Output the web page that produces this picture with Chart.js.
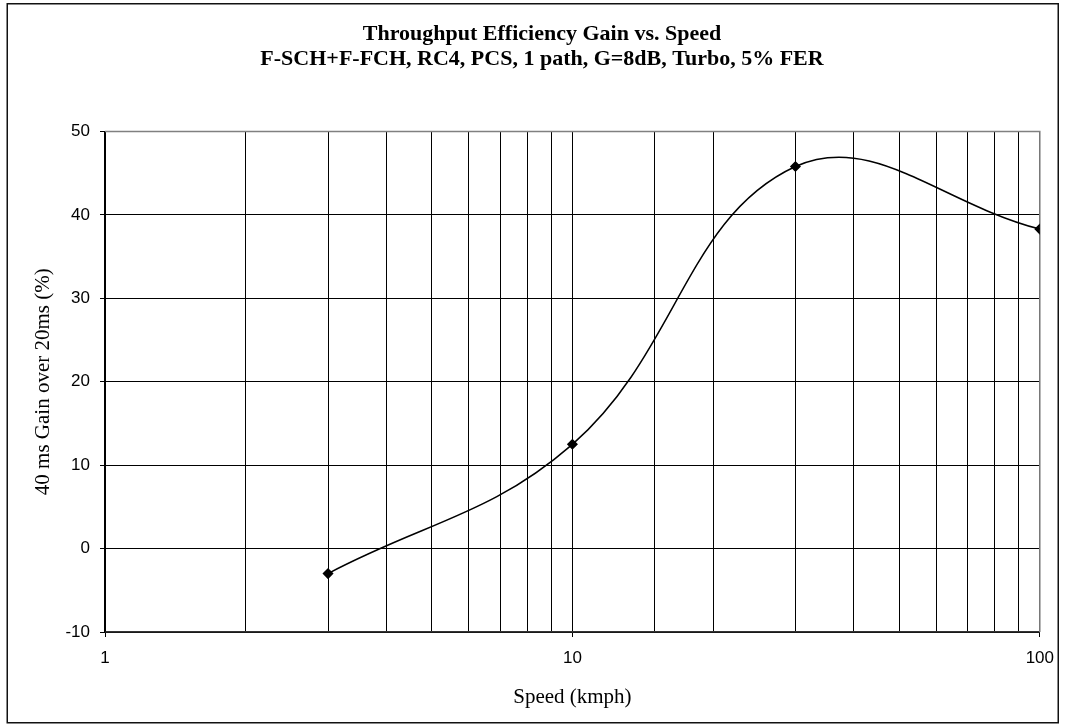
<!DOCTYPE html>
<html>
<head>
<meta charset="utf-8">
<title>Throughput Efficiency Gain vs. Speed</title>
<script src="https://cdn.jsdelivr.net/npm/chart.js@4/dist/chart.umd.min.js"></script>
<style>
    body { margin: 0; background: #fff; }
    #wrap { width: 1065px; height: 727px; position: relative; }
</style>
</head>
<body>
<div id="wrap"><canvas id="gain-speed"></canvas></div>
<script>
// measured points: speed (kmph) vs 40 ms gain over 20 ms (%)
const speeds = [3, 10, 30, 100];
const gains = [-3, 12.5, 45.8, 38.3];

const xLabelValues = [1, 10, 100];
const yMin = -10;
const yMax = 50;
const yStep = 10;

const titleLines = [
    'Throughput Efficiency Gain vs. Speed',
    'F-SCH+F-FCH, RC4, PCS, 1 path, G=8dB, Turbo, 5% FER'
];

// white page with a frame round the whole chart, grey border on top/right of the plot
const framePlugin = {
    id: 'frame',
    beforeDraw: (chart) => {
        const ctx = chart.ctx;
        ctx.save();
        ctx.fillStyle = '#fff';
        ctx.fillRect(0, 0, chart.width, chart.height);
        ctx.strokeStyle = '#111';
        ctx.lineWidth = 1.5;
        ctx.strokeRect(7.25, 3.75, 1051, 719);
        ctx.restore();
    },
    beforeDatasetsDraw: (chart) => {
        const a = chart.chartArea;
        const ctx = chart.ctx;
        ctx.save();
        ctx.strokeStyle = '#808080';
        ctx.lineWidth = 1.5;
        ctx.beginPath();
        ctx.moveTo(a.left, a.top);
        ctx.lineTo(a.right, a.top);
        ctx.lineTo(a.right, a.bottom);
        ctx.stroke();
        ctx.restore();
    }
};

Chart.defaults.font.family = '"Liberation Sans", Arial, sans-serif';
Chart.defaults.color = '#000';

const data = {
    datasets: [{
        label: 'Gain',
        data: speeds.map((s, i) => ({ x: s, y: gains[i] })),
        borderColor: '#000',
        backgroundColor: '#000',
        borderWidth: 1.5,
        tension: 0.4,
        pointStyle: 'rectRot',
        pointRadius: 4.5,
        pointHoverRadius: 4.5,
        fill: false
    }]
};

const chartConfig = {
    type: 'line',
    data: data,
    plugins: [framePlugin],
    options: {
        responsive: true,
        maintainAspectRatio: false,
        animation: false,
        layout: {
            padding: { left: 40, right: 21, top: 0, bottom: 0 }
        },
        plugins: {
            legend: { display: false },
            tooltip: { enabled: false },
            title: {
                display: true,
                text: titleLines,
                color: '#000',
                font: { family: '"Liberation Serif", "Times New Roman", serif', size: 22, weight: 'bold', lineHeight: '25px' },
                padding: { top: 22, bottom: 59.5 }
            }
        },
        scales: {
            x: {
                type: 'logarithmic',
                min: 1,
                max: 100,
                afterFit: (scale) => { scale.height = 95; },
                grid: {
                    color: '#000',
                    lineWidth: 1,
                    drawTicks: true,
                    tickLength: 5,
                    tickColor: (ctx) => xLabelValues.includes(ctx.tick && ctx.tick.value) ? '#000' : 'rgba(0,0,0,0)'
                },
                border: { display: true, color: '#333', width: 1.5 },
                ticks: {
                    autoSkip: false,
                    maxRotation: 0,
                    padding: 11,
                    font: { size: 17 },
                    callback: (value) => xLabelValues.includes(value) ? String(value) : ''
                },
                title: {
                    display: true,
                    text: 'Speed (kmph)',
                    color: '#000',
                    font: { family: '"Liberation Serif", "Times New Roman", serif', size: 21 },
                    padding: { top: 0, bottom: 17.4 }
                }
            },
            y: {
                min: yMin,
                max: yMax,
                afterFit: (scale) => { scale.width = 65; },
                grid: {
                    color: '#000',
                    lineWidth: 1,
                    drawTicks: true,
                    tickLength: 5,
                    tickColor: '#000'
                },
                border: { display: true, color: '#000', width: 1.5 },
                ticks: {
                    stepSize: yStep,
                    padding: 10,
                    font: { size: 17 }
                },
                title: {
                    display: true,
                    text: '40 ms Gain over 20ms (%)',
                    color: '#000',
                    font: { family: '"Liberation Serif", "Times New Roman", serif', size: 21 },
                    padding: { top: -9.6, bottom: 0 }
                }
            }
        }
    }
};

const ctx = document.getElementById('gain-speed').getContext('2d');
new Chart(ctx, chartConfig);
</script>
</body>
</html>
